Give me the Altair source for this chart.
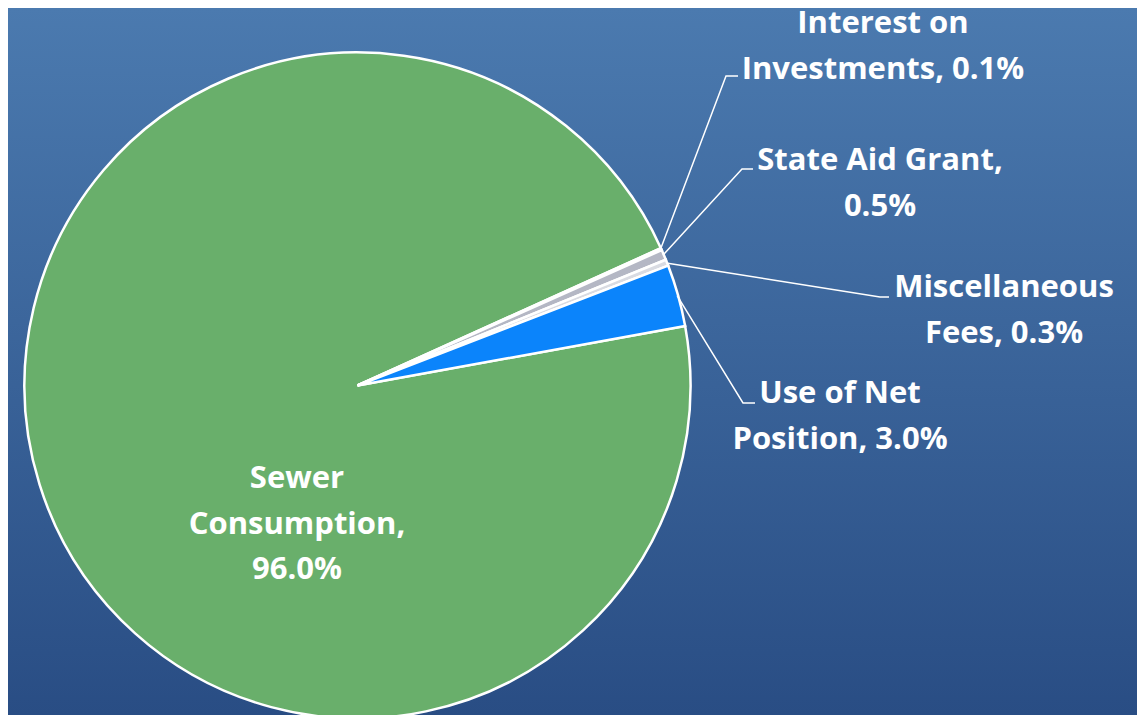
import math
import altair as alt
import pandas as pd

# ---- data ----
categories = ["Sewer Consumption", "Interest on Investments", "State Aid Grant",
              "Miscellaneous Fees", "Use of Net Position"]
display_names = ["Sewer\nConsumption", "Interest on\nInvestments", "State Aid Grant",
                 "Miscellaneous\nFees", "Use of Net\nPosition"]
separators = [",\n", ", ", ",\n", ", ", ", "]
values = [96.0, 0.1, 0.5, 0.3, 3.0]
colors = ["#69af6b", "#eef0f4", "#b4b7c4", "#d9dbe2", "#0b84fb"]
title_text = "(Based on Cash Requirements)"

# ---- layout (pixels inside the chart) ----
W, H = 1129, 707
CX, CY, R = 349.5, 377.5, 333
START_DEG = 79.7
label_x = [289, 875, 872, 996, 832]
label_y = [471, 16, 153, 280, 386]  # first line of each label
elbow_x = [None, 718, 734, 872, 735]
elbow_y = [None, 68, 161, 289, 395]
end_x = [None, 730, 745, 881, 747]
end_y = [None, 68, 161, 289, 395]

start = math.radians(START_DEG)
pie_df = pd.DataFrame({"category": categories, "value": values,
                       "idx": list(range(len(values)))})

labels = [n + s + f"{v:.1f}%" for n, s, v in zip(display_names, separators, values)]
label_df = pd.DataFrame({"label": labels, "px": label_x, "py": label_y})

total = sum(values)
rows = []
cum = 0.0
for i, v in enumerate(values):
    mid = (cum + v / 2) / total
    cum += v
    if elbow_x[i] is None:
        continue
    a = start + mid * 2 * math.pi
    sx = CX + (R - 1) * math.sin(a)
    sy = CY - (R - 1) * math.cos(a)
    rows += [
        {"key": categories[i], "ord": 0, "x": sx, "y": sy},
        {"key": categories[i], "ord": 1, "x": elbow_x[i], "y": elbow_y[i]},
        {"key": categories[i], "ord": 2, "x": end_x[i], "y": end_y[i]},
    ]
leader_df = pd.DataFrame(rows)

bg = alt.Chart(pd.DataFrame({"a": [0]})).mark_rect(
    fill=alt.Gradient(
        gradient="linear",
        stops=[alt.GradientStop(color="#4b7aaf", offset=0),
               alt.GradientStop(color="#294d84", offset=1)],
        x1=0, x2=0, y1=0, y2=1,
    )
).encode(x=alt.value(0), x2=alt.value(W), y=alt.value(0), y2=alt.value(H))

pie = alt.Chart(pie_df).mark_arc(outerRadius=R, stroke="white", strokeWidth=2.5).encode(
    theta=alt.Theta("value:Q", stack=True,
                    scale=alt.Scale(range=[start, start + 2 * math.pi])),
    color=alt.Color("category:N", scale=alt.Scale(domain=categories, range=colors),
                    legend=None),
    order=alt.Order("idx:Q"),
    x=alt.value(CX),
    y=alt.value(CY),
)

leaders = alt.Chart(leader_df).mark_line(color="white", strokeWidth=1.5).encode(
    x=alt.X("x:Q", scale=None, axis=None),
    y=alt.Y("y:Q", scale=None, axis=None),
    detail="key:N",
    order="ord:Q",
)

texts = alt.Chart(label_df).mark_text(
    font="Open Sans", fontSize=31, fontWeight="bold", color="white",
    lineBreak="\n", lineHeight=45.5, align="center", baseline="middle",
).encode(
    x=alt.X("px:Q", scale=None, axis=None),
    y=alt.Y("py:Q", scale=None, axis=None),
    text="label:N",
)

title = alt.Chart(pd.DataFrame({"t": [title_text]})).mark_text(
    font="Open Sans", fontSize=40, fontWeight="bold", color="white",
    align="center", baseline="alphabetic",
).encode(x=alt.value(350), y=alt.value(-9), text="t:N")

chart = alt.layer(bg, pie, leaders, texts, title).properties(
    width=W, height=H, padding=0, autosize=alt.AutoSizeParams(type="none"),
    background="#2f5a8f",
).configure_view(strokeWidth=0)

chart.save("out.html", embed_options={"renderer": "svg", "actions": False})
